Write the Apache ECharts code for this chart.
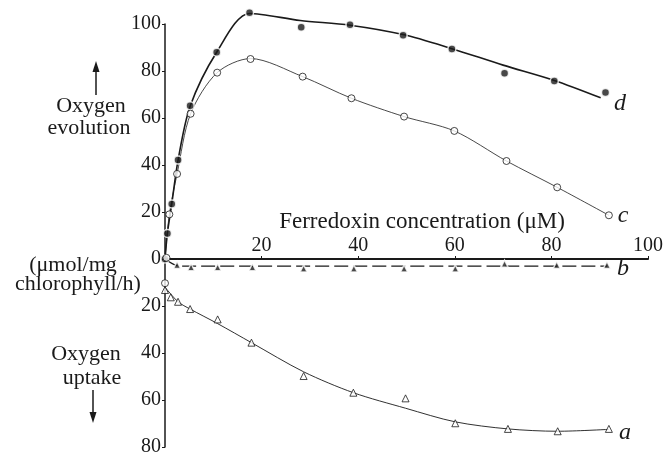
<!DOCTYPE html>
<html>
<head>
<meta charset="utf-8">
<script src="https://cdn.jsdelivr.net/npm/echarts@6/dist/echarts.min.js"></script>
<style>
  html, body { margin: 0; padding: 0; background: #fff; }
  #chart { width: 666px; height: 457px; }
</style>
</head>
<body>
<div id="chart"></div>
<script>
// ferredoxin (uM) vs O2 evolution (+) / uptake (-), umol/mg chlorophyll/h
var dMarks = [[0, 0], [0.5, 10.9], [1.4, 23.4], [2.7, 42.1], [5.2, 65.2], [10.7, 88], [17.5, 104.8],
    [28.2, 98.6], [38.3, 99.7], [49.3, 95.2], [59.4, 89.4], [70.3, 79], [80.6, 75.7], [91.2, 70.9]];
var dCurve = [[0, 0], [0.5, 11], [1.4, 23.5], [2.7, 42], [5.2, 65], [10.7, 88], [17.5, 104.5],
    [28, 101.5], [38.3, 99.5], [49.3, 95.5], [59.4, 89.5], [70, 82.5], [80.6, 76], [90.2, 68.6]];

var cMarks = [[0, -10.3], [0.3, 0.5], [0.9, 19], [2.5, 36.2], [5.3, 61.8], [10.8, 79.3], [17.7, 85.1],
    [28.5, 77.6], [38.6, 68.4], [49.5, 60.6], [59.9, 54.5], [70.7, 41.7], [81.2, 30.5], [91.9, 18.6]];
var cCurve = [[0, 0], [0.9, 19], [2.5, 36.2], [5.3, 61.8], [10.8, 79.3], [17.7, 85.3],
    [28.5, 77.6], [38.6, 68.4], [49.5, 60.6], [59.9, 54.5], [70.7, 41.7], [81.2, 30.5], [91.9, 18.6]];

var bMarks = [[2.5, -2.5], [5.4, -3.5], [10.9, -3.5], [18.1, -3.5], [28.7, -4], [39.1, -4],
    [49.5, -4], [60.1, -4], [70.3, -2], [81.1, -2.5], [91.5, -2.5]];
var bCurve = [[0, 0], [3, -3], [91.5, -3]];

var aMarks = [[0, -13.2], [1.2, -16.3], [2.7, -18.2], [5.2, -21.3], [10.9, -25.7], [17.9, -35.6],
    [28.7, -49.8], [39, -56.9], [49.8, -59.3], [60.1, -69.9], [71, -72.3], [81.3, -73.3], [91.9, -72.3]];
var aCurve = [[0, -12], [2.7, -18.2], [5.2, -21.3], [10.9, -27.5], [17.9, -35.6],
    [28.7, -48], [39, -56.9], [49.8, -63.5], [60.1, -69.3], [71, -72.3], [81.3, -73.3], [91.9, -72.5]];

var curveLabels = ['a', 'b', 'c', 'd'];
var xAxisTitle = 'Ferredoxin concentration (\u03bcM)';

var serif = '"Liberation Serif", "DejaVu Serif", serif';
var ink = '#1a1a1a';

var chart = echarts.init(document.getElementById('chart'));

function lineSeries(data, width, type) {
    return {
        type: 'line', data: data, smooth: 0.3,
        symbol: 'none', clip: false, z: 2,
        lineStyle: { color: ink, width: width, type: type || 'solid' }
    };
}

function markSeries(data, symbol, size, filled) {
    return {
        type: 'scatter', data: data, symbol: symbol, symbolSize: size, clip: false, z: 5,
        itemStyle: {
            color: filled ? ink : '#fff',
            borderColor: filled ? '#fff' : ink,
            borderWidth: filled ? 1.5 : 1
        }
    };
}

function txt(text, x, y, size, italic) {
    return {
        type: 'text', x: x, y: y,
        style: {
            text: text, font: (italic ? 'italic ' : '') + size + 'px ' + serif,
            fill: ink, align: 'center', verticalAlign: 'middle'
        }
    };
}

var option = {
    backgroundColor: '#fff',
    animation: false,
    grid: { left: 165, right: 16, top: 24, bottom: 10 },
    xAxis: {
        type: 'value', min: 0, max: 100, interval: 20, position: 'bottom', offset: -188,
        axisLine: { onZero: false, lineStyle: { color: ink, width: 2 } },
        axisTick: { show: true, length: 3, inside: true, lineStyle: { color: ink } },
        splitLine: { show: false },
        axisLabel: {
            inside: true, margin: 3, fontFamily: serif, fontSize: 20, color: ink,
            formatter: function (v) { return v === 0 ? '' : String(v); }
        }
    },
    yAxis: {
        type: 'value', min: -80, max: 100, interval: 20,
        axisLine: { show: true, lineStyle: { color: ink, width: 1.5 } },
        axisTick: { show: true, length: 3, lineStyle: { color: ink } },
        splitLine: { show: false },
        axisLabel: {
            margin: 4, fontFamily: serif, fontSize: 20, color: ink,
            formatter: function (v) { return String(Math.abs(v)); }
        }
    },
    series: [
        lineSeries(dCurve, 1.6),
        lineSeries(cCurve, 0.8),
        lineSeries(bCurve, 1.2, [14, 5]),
        lineSeries(aCurve, 0.9),
        markSeries(dMarks, 'circle', 8, true),
        markSeries(cMarks, 'circle', 7, false),
        markSeries(bMarks, 'triangle', 7, true),
        markSeries(aMarks, 'triangle', 7, false)
    ],
    graphic: [
        txt(xAxisTitle, 422, 222, 23, false),
        txt('Oxygen', 91, 106, 22, false),
        txt('evolution', 89, 128, 22, false),
        txt('(\u03bcmol/mg', 73, 265, 22, false),
        txt('chlorophyll/h)', 78, 284, 22, false),
        txt('Oxygen', 86, 354, 22, false),
        txt('uptake', 92, 378, 22, false),
        { type: 'line', shape: { x1: 96, y1: 95, x2: 96, y2: 70 }, style: { stroke: ink, lineWidth: 1.5 } },
        { type: 'polygon', shape: { points: [[96, 61], [92.5, 72], [99.5, 72]] }, style: { fill: ink } },
        { type: 'line', shape: { x1: 93, y1: 390, x2: 93, y2: 414 }, style: { stroke: ink, lineWidth: 1.5 } },
        { type: 'polygon', shape: { points: [[93, 423], [89.5, 412], [96.5, 412]] }, style: { fill: ink } },
        txt(curveLabels[0], 625, 433, 24, true),
        txt(curveLabels[1], 623, 269, 24, true),
        txt(curveLabels[2], 623, 216, 24, true),
        txt(curveLabels[3], 620, 104, 24, true)
    ]
};

chart.setOption(option);
</script>
</body>
</html>
